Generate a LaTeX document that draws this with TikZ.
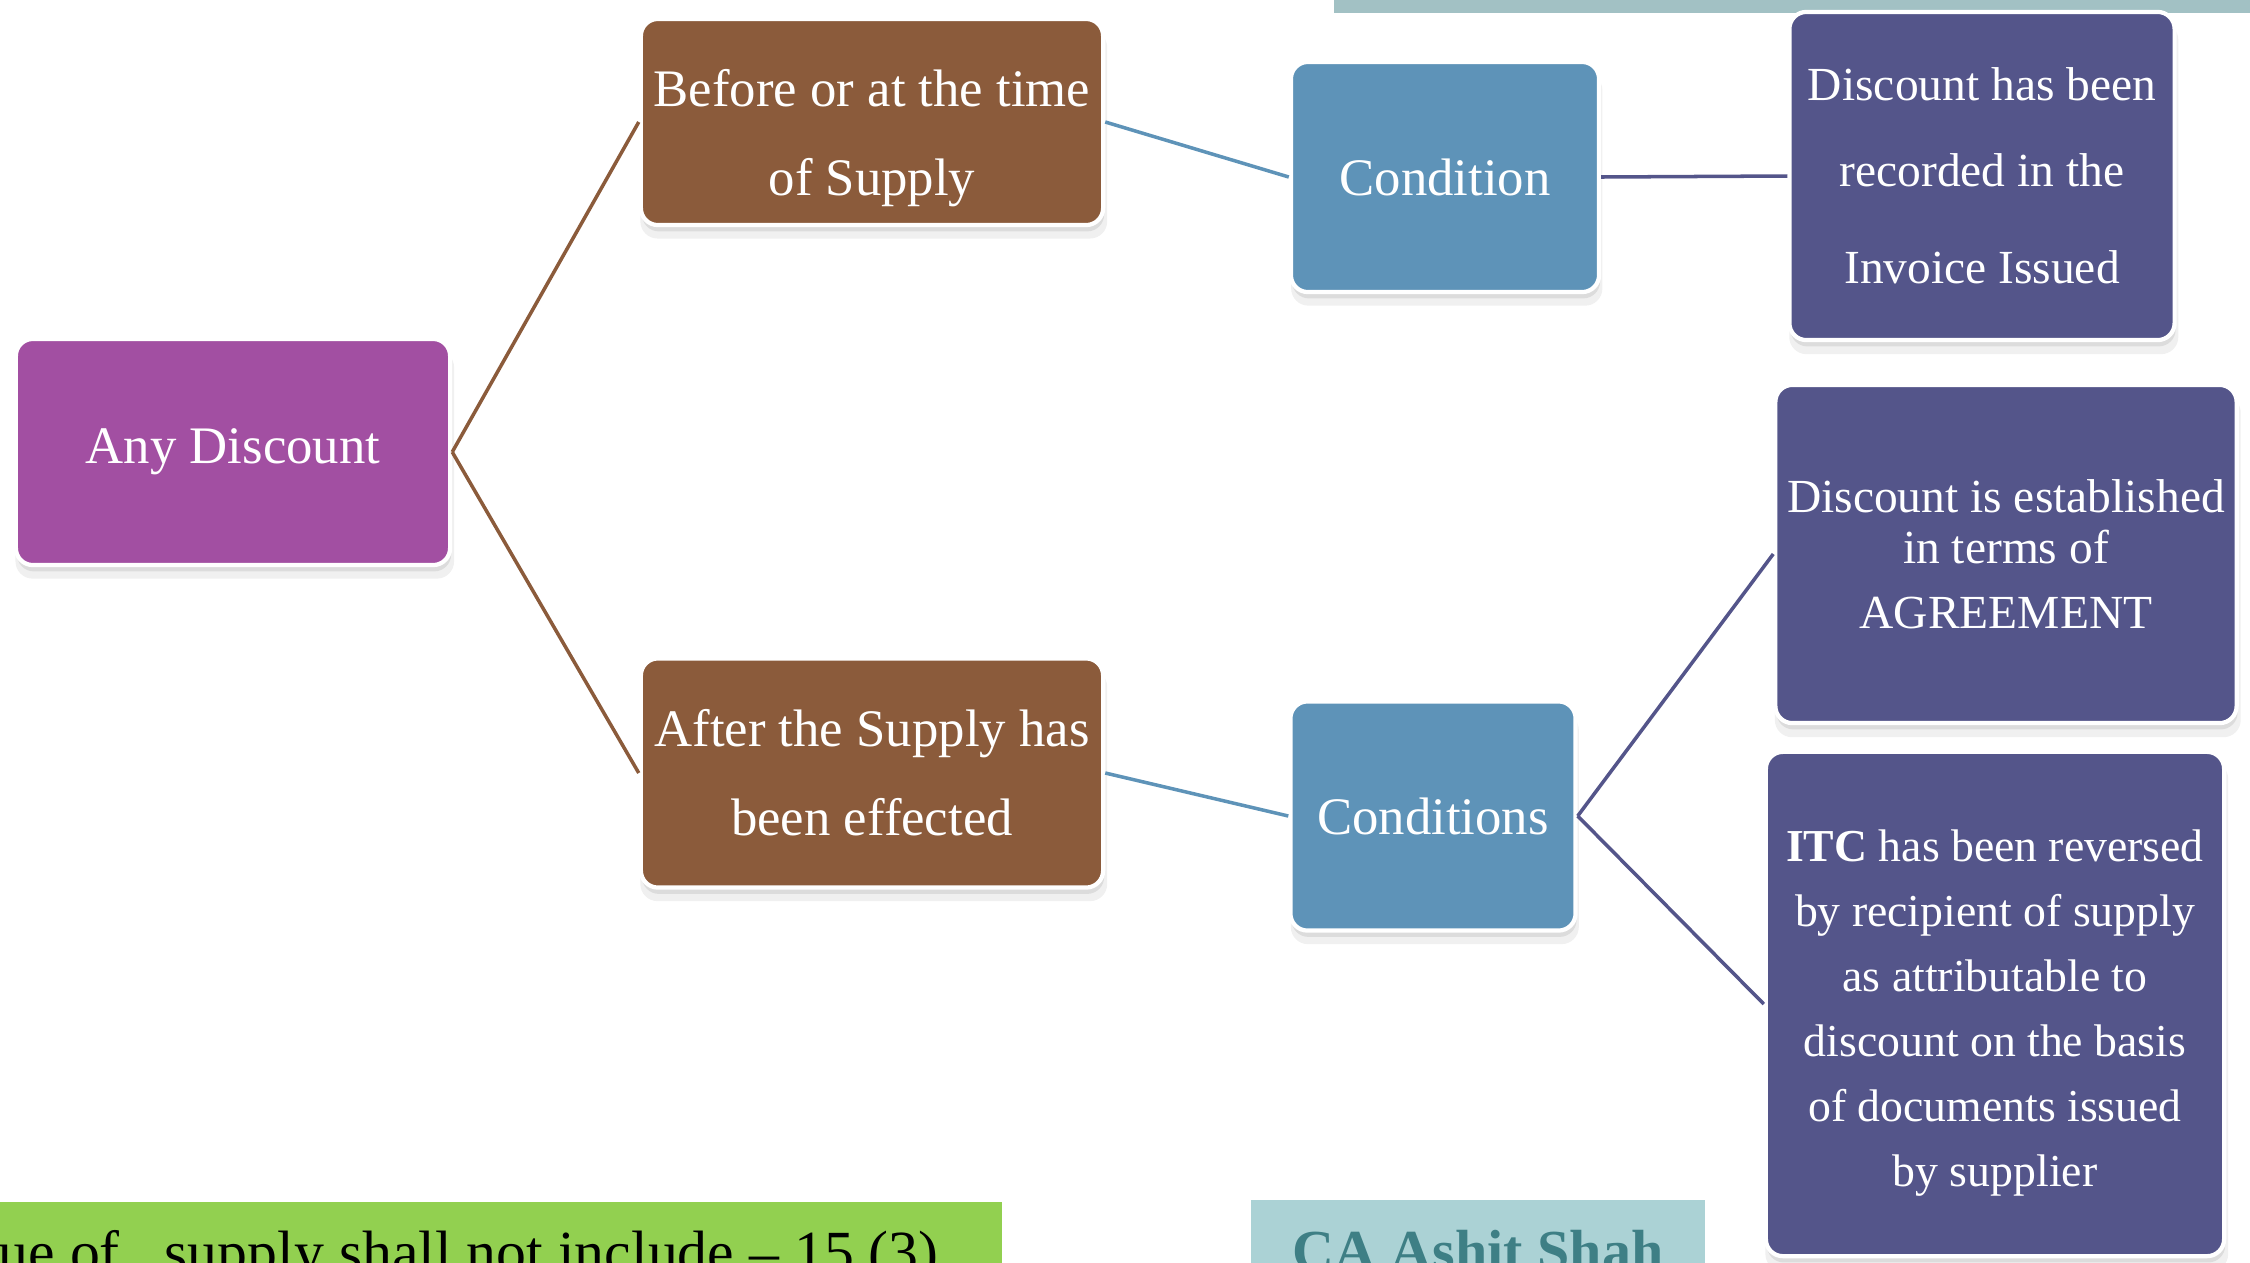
\documentclass[tikz,border=0pt]{standalone}
\usepackage{fontspec}
\setmainfont{Liberation Serif}
\usetikzlibrary{shadows}
\definecolor{anyclr}{HTML}{A24FA2}
\definecolor{whenclr}{HTML}{8B5B3B}
\definecolor{condclr}{HTML}{5E93B8}
\definecolor{ruleclr}{HTML}{54558A}
\definecolor{barclr}{HTML}{A2C1C4}
\definecolor{greenbar}{HTML}{92D050}
\definecolor{namebar}{HTML}{ABD2D5}
\definecolor{nametext}{HTML}{3E7F85}
\begin{document}
\begin{tikzpicture}[x=0.01cm,y=-0.01cm,
  box/.style={rounded corners=0.17cm,draw=white,line width=1.2pt,text=white,align=center,inner sep=0pt,
    drop shadow={opacity=0.12,shadow xshift=0.5pt,shadow yshift=-3.5pt,shadow scale=1.01},
    drop shadow={opacity=0.18,shadow xshift=0.3pt,shadow yshift=-1.8pt}},
  big text/.style={font=\fontsize{15}{25.3}\selectfont},
  small text/.style={font=\fontsize{13}{18.5}\selectfont},
  link line/.style={line width=1pt}]
  \useasboundingbox (0,0) rectangle (2250,1263); %page size
  \fill[barclr] (1334,0) rectangle (2250,13); %top strip
  \fill[greenbar] (0,1202) rectangle (1002,1275); %green strip
  \node[anchor=base west,inner sep=0pt,font=\fontsize{17}{20}\selectfont] (vos) at (-2,1272) {ue of\ \ \ supply shall not include – 15 (3)};
  \fill[namebar] (1251,1200) rectangle (1705,1275); %name strip
  \node[anchor=base,inner sep=0pt,text=nametext,font=\bfseries\fontsize{16.5}{20}\selectfont] (author) at (1478,1270) {CA Ashit Shah};
  \node[box,big text,fill=anyclr,minimum width=4.34cm,minimum height=2.26cm] (any) at (233,452) {Any Discount}; %root
  \node[box,big text,fill=whenclr,minimum width=4.62cm,minimum height=2.06cm] (before) at (872,122) {\rule{0pt}{20pt}Before or at the time\\of Supply};
  \node[box,big text,fill=whenclr,minimum width=4.62cm,minimum height=2.29cm] (after) at (872,773) {After the Supply has\\been effected};
  \node[box,big text,fill=condclr,minimum width=3.08cm,minimum height=2.30cm] (cond) at (1445,177) {Condition};
  \node[box,big text,fill=condclr,minimum width=2.85cm,minimum height=2.29cm] (conds) at (1433,816) {Conditions};
  \node[box,fill=ruleclr,font=\fontsize{13.5}{24.5}\selectfont,minimum width=3.85cm,minimum height=3.28cm] (invoice) at (1982,176) {Discount has been\\recorded in the\\[3pt]Invoice Issued};
  \node[box,fill=ruleclr,font=\fontsize{13.5}{14.5}\selectfont,minimum width=4.61cm,minimum height=3.38cm] (agree) at (2006,554) {Discount is established\\in terms of\\[4pt]AGREEMENT};
  \node[box,small text,fill=ruleclr,minimum width=4.58cm,minimum height=5.04cm] (itc) at (1995,1004) {\rule{0pt}{14pt}\textbf{ITC} has been reversed\\by recipient of supply\\as attributable to\\discount on the basis\\of documents issued\\by supplier};
  \draw[link line,whenclr] (any.east) -- (before.west); %branches
  \draw[link line,whenclr] (any.east) -- (after.west);
  \draw[link line,condclr] (before.east) -- (cond.west);
  \draw[link line,condclr] (after.east) -- (conds.west);
  \draw[link line,ruleclr] (cond.east) -- (invoice.west);
  \draw[link line,ruleclr] (conds.east) -- (agree.west);
  \draw[link line,ruleclr] (conds.east) -- (itc.west);
\end{tikzpicture}
\end{document}
